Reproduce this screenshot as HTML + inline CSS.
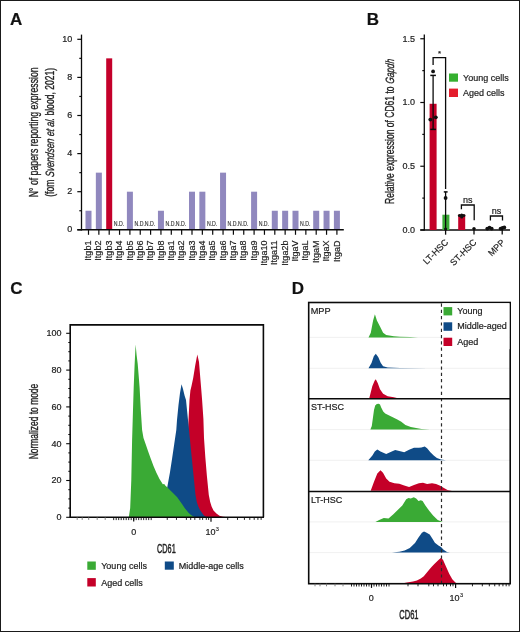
<!DOCTYPE html>
<html><head><meta charset="utf-8"><style>
html,body{margin:0;padding:0;background:#fff;}
svg{display:block;font-family:"Liberation Sans", sans-serif;will-change:transform;}
text{stroke:#222;stroke-width:0.2px;}
</style></head><body>
<svg width="520" height="632" viewBox="0 0 520 632">
<rect width="520" height="632" fill="#fff"/>
<rect x="0.5" y="0.5" width="519" height="631" fill="none" stroke="#1a1a1a" stroke-width="1"/>
<text x="10.00" y="24.80" font-size="17" text-anchor="start" font-weight="bold" fill="#111" >A</text>
<line x1="81.50" y1="34.60" x2="81.50" y2="230.50" stroke="#0a0a0a" stroke-width="1.3" />
<line x1="77.30" y1="229.80" x2="81.50" y2="229.80" stroke="#0a0a0a" stroke-width="1.2" />
<text x="72.30" y="232.30" font-size="9" text-anchor="end" font-weight="normal" fill="#222" >0</text>
<line x1="79.30" y1="210.75" x2="81.50" y2="210.75" stroke="#0a0a0a" stroke-width="1.2" />
<line x1="77.30" y1="191.70" x2="81.50" y2="191.70" stroke="#0a0a0a" stroke-width="1.2" />
<text x="72.30" y="194.20" font-size="9" text-anchor="end" font-weight="normal" fill="#222" >2</text>
<line x1="79.30" y1="172.65" x2="81.50" y2="172.65" stroke="#0a0a0a" stroke-width="1.2" />
<line x1="77.30" y1="153.60" x2="81.50" y2="153.60" stroke="#0a0a0a" stroke-width="1.2" />
<text x="72.30" y="156.10" font-size="9" text-anchor="end" font-weight="normal" fill="#222" >4</text>
<line x1="79.30" y1="134.55" x2="81.50" y2="134.55" stroke="#0a0a0a" stroke-width="1.2" />
<line x1="77.30" y1="115.50" x2="81.50" y2="115.50" stroke="#0a0a0a" stroke-width="1.2" />
<text x="72.30" y="118.00" font-size="9" text-anchor="end" font-weight="normal" fill="#222" >6</text>
<line x1="79.30" y1="96.45" x2="81.50" y2="96.45" stroke="#0a0a0a" stroke-width="1.2" />
<line x1="77.30" y1="77.40" x2="81.50" y2="77.40" stroke="#0a0a0a" stroke-width="1.2" />
<text x="72.30" y="79.90" font-size="9" text-anchor="end" font-weight="normal" fill="#222" >8</text>
<line x1="79.30" y1="58.35" x2="81.50" y2="58.35" stroke="#0a0a0a" stroke-width="1.2" />
<line x1="77.30" y1="39.30" x2="81.50" y2="39.30" stroke="#0a0a0a" stroke-width="1.2" />
<text x="72.30" y="41.80" font-size="9" text-anchor="end" font-weight="normal" fill="#222" >10</text>
<rect x="85.50" y="210.75" width="6.00" height="19.05" fill="#9088be"/>
<line x1="88.50" y1="229.80" x2="88.50" y2="234.80" stroke="#0a0a0a" stroke-width="1.2" />
<text transform="translate(91.10,240.6) rotate(-90)" font-size="9" text-anchor="end" fill="#222">Itgb1</text>
<rect x="95.85" y="172.65" width="6.00" height="57.15" fill="#9088be"/>
<line x1="98.85" y1="229.80" x2="98.85" y2="234.80" stroke="#0a0a0a" stroke-width="1.2" />
<text transform="translate(101.45,240.6) rotate(-90)" font-size="9" text-anchor="end" fill="#222">Itgb2</text>
<rect x="106.20" y="58.35" width="6.00" height="171.45" fill="#c4002a"/>
<line x1="109.20" y1="229.80" x2="109.20" y2="234.80" stroke="#0a0a0a" stroke-width="1.2" />
<text transform="translate(111.80,240.6) rotate(-90)" font-size="9" text-anchor="end" fill="#222">Itgb3</text>
<text x="118.95" y="226.3" font-size="6.6" text-anchor="middle" fill="#333" textLength="10.4" lengthAdjust="spacingAndGlyphs" style="stroke:#333;stroke-width:0.15px">N.D.</text>
<line x1="119.55" y1="229.80" x2="119.55" y2="234.80" stroke="#0a0a0a" stroke-width="1.2" />
<text transform="translate(122.15,240.6) rotate(-90)" font-size="9" text-anchor="end" fill="#222">Itgb4</text>
<rect x="126.90" y="191.70" width="6.00" height="38.10" fill="#9088be"/>
<line x1="129.90" y1="229.80" x2="129.90" y2="234.80" stroke="#0a0a0a" stroke-width="1.2" />
<text transform="translate(132.50,240.6) rotate(-90)" font-size="9" text-anchor="end" fill="#222">Itgb5</text>
<text x="139.65" y="226.3" font-size="6.6" text-anchor="middle" fill="#333" textLength="10.4" lengthAdjust="spacingAndGlyphs" style="stroke:#333;stroke-width:0.15px">N.D.</text>
<line x1="140.25" y1="229.80" x2="140.25" y2="234.80" stroke="#0a0a0a" stroke-width="1.2" />
<text transform="translate(142.85,240.6) rotate(-90)" font-size="9" text-anchor="end" fill="#222">Itgb6</text>
<text x="150.00" y="226.3" font-size="6.6" text-anchor="middle" fill="#333" textLength="10.4" lengthAdjust="spacingAndGlyphs" style="stroke:#333;stroke-width:0.15px">N.D.</text>
<line x1="150.60" y1="229.80" x2="150.60" y2="234.80" stroke="#0a0a0a" stroke-width="1.2" />
<text transform="translate(153.20,240.6) rotate(-90)" font-size="9" text-anchor="end" fill="#222">Itgb7</text>
<rect x="157.95" y="210.75" width="6.00" height="19.05" fill="#9088be"/>
<line x1="160.95" y1="229.80" x2="160.95" y2="234.80" stroke="#0a0a0a" stroke-width="1.2" />
<text transform="translate(163.55,240.6) rotate(-90)" font-size="9" text-anchor="end" fill="#222">Itgb8</text>
<text x="170.70" y="226.3" font-size="6.6" text-anchor="middle" fill="#333" textLength="10.4" lengthAdjust="spacingAndGlyphs" style="stroke:#333;stroke-width:0.15px">N.D.</text>
<line x1="171.30" y1="229.80" x2="171.30" y2="234.80" stroke="#0a0a0a" stroke-width="1.2" />
<text transform="translate(173.90,240.6) rotate(-90)" font-size="9" text-anchor="end" fill="#222">Itga1</text>
<text x="181.05" y="226.3" font-size="6.6" text-anchor="middle" fill="#333" textLength="10.4" lengthAdjust="spacingAndGlyphs" style="stroke:#333;stroke-width:0.15px">N.D.</text>
<line x1="181.65" y1="229.80" x2="181.65" y2="234.80" stroke="#0a0a0a" stroke-width="1.2" />
<text transform="translate(184.25,240.6) rotate(-90)" font-size="9" text-anchor="end" fill="#222">Itga2</text>
<rect x="189.00" y="191.70" width="6.00" height="38.10" fill="#9088be"/>
<line x1="192.00" y1="229.80" x2="192.00" y2="234.80" stroke="#0a0a0a" stroke-width="1.2" />
<text transform="translate(194.60,240.6) rotate(-90)" font-size="9" text-anchor="end" fill="#222">Itga3</text>
<rect x="199.35" y="191.70" width="6.00" height="38.10" fill="#9088be"/>
<line x1="202.35" y1="229.80" x2="202.35" y2="234.80" stroke="#0a0a0a" stroke-width="1.2" />
<text transform="translate(204.95,240.6) rotate(-90)" font-size="9" text-anchor="end" fill="#222">Itga4</text>
<text x="212.10" y="226.3" font-size="6.6" text-anchor="middle" fill="#333" textLength="10.4" lengthAdjust="spacingAndGlyphs" style="stroke:#333;stroke-width:0.15px">N.D.</text>
<line x1="212.70" y1="229.80" x2="212.70" y2="234.80" stroke="#0a0a0a" stroke-width="1.2" />
<text transform="translate(215.30,240.6) rotate(-90)" font-size="9" text-anchor="end" fill="#222">Itga5</text>
<rect x="220.05" y="172.65" width="6.00" height="57.15" fill="#9088be"/>
<line x1="223.05" y1="229.80" x2="223.05" y2="234.80" stroke="#0a0a0a" stroke-width="1.2" />
<text transform="translate(225.65,240.6) rotate(-90)" font-size="9" text-anchor="end" fill="#222">Itga6</text>
<text x="232.80" y="226.3" font-size="6.6" text-anchor="middle" fill="#333" textLength="10.4" lengthAdjust="spacingAndGlyphs" style="stroke:#333;stroke-width:0.15px">N.D.</text>
<line x1="233.40" y1="229.80" x2="233.40" y2="234.80" stroke="#0a0a0a" stroke-width="1.2" />
<text transform="translate(236.00,240.6) rotate(-90)" font-size="9" text-anchor="end" fill="#222">Itga7</text>
<text x="243.15" y="226.3" font-size="6.6" text-anchor="middle" fill="#333" textLength="10.4" lengthAdjust="spacingAndGlyphs" style="stroke:#333;stroke-width:0.15px">N.D.</text>
<line x1="243.75" y1="229.80" x2="243.75" y2="234.80" stroke="#0a0a0a" stroke-width="1.2" />
<text transform="translate(246.35,240.6) rotate(-90)" font-size="9" text-anchor="end" fill="#222">Itga8</text>
<rect x="251.10" y="191.70" width="6.00" height="38.10" fill="#9088be"/>
<line x1="254.10" y1="229.80" x2="254.10" y2="234.80" stroke="#0a0a0a" stroke-width="1.2" />
<text transform="translate(256.70,240.6) rotate(-90)" font-size="9" text-anchor="end" fill="#222">Itga9</text>
<text x="263.85" y="226.3" font-size="6.6" text-anchor="middle" fill="#333" textLength="10.4" lengthAdjust="spacingAndGlyphs" style="stroke:#333;stroke-width:0.15px">N.D.</text>
<line x1="264.45" y1="229.80" x2="264.45" y2="234.80" stroke="#0a0a0a" stroke-width="1.2" />
<text transform="translate(267.05,240.6) rotate(-90)" font-size="9" text-anchor="end" fill="#222">Itga10</text>
<rect x="271.80" y="210.75" width="6.00" height="19.05" fill="#9088be"/>
<line x1="274.80" y1="229.80" x2="274.80" y2="234.80" stroke="#0a0a0a" stroke-width="1.2" />
<text transform="translate(277.40,240.6) rotate(-90)" font-size="9" text-anchor="end" fill="#222">Itga11</text>
<rect x="282.15" y="210.75" width="6.00" height="19.05" fill="#9088be"/>
<line x1="285.15" y1="229.80" x2="285.15" y2="234.80" stroke="#0a0a0a" stroke-width="1.2" />
<text transform="translate(287.75,240.6) rotate(-90)" font-size="9" text-anchor="end" fill="#222">Itga2b</text>
<rect x="292.50" y="210.75" width="6.00" height="19.05" fill="#9088be"/>
<line x1="295.50" y1="229.80" x2="295.50" y2="234.80" stroke="#0a0a0a" stroke-width="1.2" />
<text transform="translate(298.10,240.6) rotate(-90)" font-size="9" text-anchor="end" fill="#222">ItgaV</text>
<text x="305.25" y="226.3" font-size="6.6" text-anchor="middle" fill="#333" textLength="10.4" lengthAdjust="spacingAndGlyphs" style="stroke:#333;stroke-width:0.15px">N.D.</text>
<line x1="305.85" y1="229.80" x2="305.85" y2="234.80" stroke="#0a0a0a" stroke-width="1.2" />
<text transform="translate(308.45,240.6) rotate(-90)" font-size="9" text-anchor="end" fill="#222">ItgaL</text>
<rect x="313.20" y="210.75" width="6.00" height="19.05" fill="#9088be"/>
<line x1="316.20" y1="229.80" x2="316.20" y2="234.80" stroke="#0a0a0a" stroke-width="1.2" />
<text transform="translate(318.80,240.6) rotate(-90)" font-size="9" text-anchor="end" fill="#222">ItgaM</text>
<rect x="323.55" y="210.75" width="6.00" height="19.05" fill="#9088be"/>
<line x1="326.55" y1="229.80" x2="326.55" y2="234.80" stroke="#0a0a0a" stroke-width="1.2" />
<text transform="translate(329.15,240.6) rotate(-90)" font-size="9" text-anchor="end" fill="#222">ItgaX</text>
<rect x="333.90" y="210.75" width="6.00" height="19.05" fill="#9088be"/>
<line x1="336.90" y1="229.80" x2="336.90" y2="234.80" stroke="#0a0a0a" stroke-width="1.2" />
<text transform="translate(339.50,240.6) rotate(-90)" font-size="9" text-anchor="end" fill="#222">ItgaD</text>
<line x1="77.30" y1="229.80" x2="343.80" y2="229.80" stroke="#0a0a0a" stroke-width="1.4" />
<text transform="translate(37.7,132.3) rotate(-90)" font-size="12" text-anchor="middle" fill="#222" textLength="130" lengthAdjust="spacingAndGlyphs" style="stroke-width:0.32px">N° of papers reporting expression</text>
<text transform="translate(54,196.8) rotate(-90)" font-size="12" fill="#222" textLength="17.2" lengthAdjust="spacingAndGlyphs" style="stroke-width:0.32px">(fom</text>
<text transform="translate(54,177.2) rotate(-90) skewX(-6)" font-size="12" font-style="italic" fill="#222" textLength="59.2" lengthAdjust="spacingAndGlyphs" style="stroke-width:0.32px">Svendsen et al.</text>
<text transform="translate(54,117.95) rotate(-90)" font-size="12" fill="#222" textLength="50.1" lengthAdjust="spacingAndGlyphs" style="stroke-width:0.32px" xml:space="preserve"> blood, 2021)</text>
<text x="366.80" y="24.60" font-size="17" text-anchor="start" font-weight="bold" fill="#111" >B</text>
<line x1="424.30" y1="34.60" x2="424.30" y2="230.50" stroke="#0a0a0a" stroke-width="1.3" />
<line x1="420.30" y1="230.00" x2="424.30" y2="230.00" stroke="#0a0a0a" stroke-width="1.2" />
<text x="414.90" y="232.90" font-size="9" text-anchor="end" font-weight="normal" fill="#222" >0.0</text>
<line x1="422.30" y1="198.12" x2="424.30" y2="198.12" stroke="#0a0a0a" stroke-width="1.2" />
<line x1="420.30" y1="166.25" x2="424.30" y2="166.25" stroke="#0a0a0a" stroke-width="1.2" />
<text x="414.90" y="169.15" font-size="9" text-anchor="end" font-weight="normal" fill="#222" >0.5</text>
<line x1="422.30" y1="134.38" x2="424.30" y2="134.38" stroke="#0a0a0a" stroke-width="1.2" />
<line x1="420.30" y1="102.50" x2="424.30" y2="102.50" stroke="#0a0a0a" stroke-width="1.2" />
<text x="414.90" y="105.40" font-size="9" text-anchor="end" font-weight="normal" fill="#222" >1.0</text>
<line x1="422.30" y1="70.62" x2="424.30" y2="70.62" stroke="#0a0a0a" stroke-width="1.2" />
<line x1="420.30" y1="38.75" x2="424.30" y2="38.75" stroke="#0a0a0a" stroke-width="1.2" />
<text x="414.90" y="41.65" font-size="9" text-anchor="end" font-weight="normal" fill="#222" >1.5</text>
<line x1="420.30" y1="230.00" x2="510.00" y2="230.00" stroke="#0a0a0a" stroke-width="1.4" />
<rect x="429.60" y="103.78" width="7.00" height="126.22" fill="#c40028"/>
<rect x="442.40" y="214.70" width="7.00" height="15.30" fill="#3aaa35"/>
<rect x="458.20" y="214.70" width="7.00" height="15.30" fill="#c40028"/>
<line x1="433.10" y1="75.40" x2="433.10" y2="129.40" stroke="#0a0a0a" stroke-width="1.3" />
<line x1="430.30" y1="75.40" x2="435.90" y2="75.40" stroke="#0a0a0a" stroke-width="1.5" />
<line x1="430.30" y1="129.40" x2="435.90" y2="129.40" stroke="#0a0a0a" stroke-width="1.5" />
<circle cx="433.1" cy="71.4" r="1.9" fill="#111"/>
<circle cx="430.3" cy="119.6" r="1.9" fill="#111"/>
<circle cx="435.8" cy="117.3" r="1.9" fill="#111"/>
<line x1="445.60" y1="191.90" x2="445.60" y2="234.70" stroke="#0a0a0a" stroke-width="1.3" />
<line x1="443.80" y1="191.90" x2="447.60" y2="191.90" stroke="#0a0a0a" stroke-width="1.5" />
<circle cx="445.6" cy="198" r="1.9" fill="#111"/>
<circle cx="445.6" cy="229" r="1.6" fill="#111"/>
<polyline points="433.1,65 433.1,57.7 445.6,57.7 445.6,189" fill="none" stroke="#0a0a0a" stroke-width="1.3"/>
<text x="439.60" y="56.00" font-size="8" text-anchor="middle" font-weight="normal" fill="#222" >*</text>
<circle cx="459.5" cy="215.5" r="1.6" fill="#111"/>
<circle cx="461.7" cy="215" r="1.6" fill="#111"/>
<circle cx="463.8" cy="215.5" r="1.6" fill="#111"/>
<circle cx="461.7" cy="217" r="1.6" fill="#111"/>
<circle cx="474" cy="228.6" r="1.7" fill="#111"/>
<line x1="474.00" y1="228.00" x2="474.00" y2="234.50" stroke="#0a0a0a" stroke-width="1.3" />
<polyline points="461.4,209.3 461.4,205 474.2,205 474.2,220.2" fill="none" stroke="#0a0a0a" stroke-width="1.3"/>
<text x="467.80" y="203.00" font-size="9" text-anchor="middle" font-weight="normal" fill="#222" >ns</text>
<circle cx="487.3" cy="228.6" r="1.9" fill="#111"/>
<circle cx="489.5" cy="227.6" r="1.9" fill="#111"/>
<circle cx="491.7" cy="228.6" r="1.9" fill="#111"/>
<circle cx="500.6" cy="228.6" r="1.9" fill="#111"/>
<circle cx="502.5" cy="227.8" r="1.9" fill="#111"/>
<circle cx="504.3" cy="227.4" r="1.9" fill="#111"/>
<line x1="502.20" y1="228.00" x2="502.20" y2="234.50" stroke="#0a0a0a" stroke-width="1.3" />
<polyline points="490.4,220.4 490.4,216 502.5,216 502.5,220.4" fill="none" stroke="#0a0a0a" stroke-width="1.3"/>
<text x="496.40" y="213.80" font-size="9" text-anchor="middle" font-weight="normal" fill="#222" >ns</text>
<text transform="translate(448.90,242.9) rotate(-45)" font-size="9" text-anchor="end" fill="#222">LT-HSC</text>
<text transform="translate(477.20,242.9) rotate(-45)" font-size="9" text-anchor="end" fill="#222">ST-HSC</text>
<text transform="translate(505.60,242.9) rotate(-45)" font-size="9" text-anchor="end" fill="#222">MPP</text>
<rect x="449.00" y="73.50" width="9.00" height="8.20" fill="#35b030"/>
<rect x="449.00" y="88.60" width="9.00" height="8.40" fill="#e41d2c"/>
<text x="463.00" y="80.50" font-size="9" text-anchor="start" font-weight="normal" fill="#222" >Young cells</text>
<text x="463.00" y="95.80" font-size="9" text-anchor="start" font-weight="normal" fill="#222" >Aged cells</text>
<text transform="translate(394.3,204) rotate(-90)" font-size="12" fill="#222" textLength="117.5" lengthAdjust="spacingAndGlyphs" style="stroke-width:0.32px">Relative expression of CD61 to</text>
<text transform="translate(394.3,83.9) rotate(-90) skewX(-6)" font-size="12" font-style="italic" fill="#222" textLength="24.6" lengthAdjust="spacingAndGlyphs" style="stroke-width:0.32px">Gapdh</text>
<text x="10.30" y="294.00" font-size="17" text-anchor="start" font-weight="bold" fill="#111" >C</text>
<path d="M183.0,517.3 L186.0,470.0 L188.5,420.0 L189.5,400.0 L190.4,390.6 L191.5,386.0 L193.2,378.0 L195.3,365.0 L197.3,354.6 L199.0,362.0 L200.3,378.0 L201.3,390.0 L202.1,400.0 L203.4,419.0 L204.0,438.0 L205.3,457.0 L206.9,476.0 L208.8,495.0 L210.2,502.0 L211.6,506.5 L213.5,510.5 L216.4,513.5 L219.5,515.8 L223.0,516.8 L228.0,517.3 Z" fill="#c40028"/>
<path d="M158.0,517.3 L165.0,500.0 L167.8,484.2 L169.9,472.8 L172.1,458.5 L174.2,444.3 L176.3,430.0 L177.0,420.0 L178.5,405.0 L180.0,393.0 L181.5,384.3 L183.0,389.0 L184.7,396.0 L186.0,400.0 L187.9,419.0 L189.8,438.0 L191.7,457.0 L193.6,476.0 L195.5,495.0 L196.8,502.0 L198.3,506.5 L200.0,510.0 L202.1,513.0 L204.0,515.5 L206.0,516.8 L209.0,517.3 Z" fill="#0f4b87"/>
<path d="M128.8,517.3 L130.2,508.0 L131.3,480.0 L132.1,440.0 L133.0,410.0 L133.7,387.5 L134.6,365.0 L135.6,344.6 L136.6,355.0 L137.7,363.7 L138.7,376.0 L139.6,387.5 L140.8,410.0 L142.1,430.0 L143.5,438.0 L145.7,444.3 L148.0,451.0 L150.7,458.5 L153.5,466.0 L156.4,472.8 L159.5,479.0 L162.8,484.2 L164.2,484.0 L165.5,485.8 L167.0,487.0 L169.9,489.9 L173.5,493.5 L177.0,497.0 L182.0,504.1 L185.0,508.5 L188.5,512.7 L191.0,515.0 L194.0,516.8 L196.0,517.3 Z" fill="#3aaa35"/>
<polyline points="70.2,517.3 70.2,324.9 263.4,324.9 263.4,517.3" fill="none" stroke="#0a0a0a" stroke-width="1.6"/>
<line x1="69.60" y1="517.30" x2="264.00" y2="517.30" stroke="#0a0a0a" stroke-width="1.4" />
<line x1="66.20" y1="517.30" x2="70.20" y2="517.30" stroke="#0a0a0a" stroke-width="1.1" />
<text x="61.60" y="520.10" font-size="9" text-anchor="end" font-weight="normal" fill="#222" >0</text>
<line x1="68.30" y1="508.10" x2="70.20" y2="508.10" stroke="#0a0a0a" stroke-width="1.0" />
<line x1="68.30" y1="498.90" x2="70.20" y2="498.90" stroke="#0a0a0a" stroke-width="1.0" />
<line x1="68.30" y1="489.70" x2="70.20" y2="489.70" stroke="#0a0a0a" stroke-width="1.0" />
<line x1="66.20" y1="480.50" x2="70.20" y2="480.50" stroke="#0a0a0a" stroke-width="1.1" />
<text x="61.60" y="483.30" font-size="9" text-anchor="end" font-weight="normal" fill="#222" >20</text>
<line x1="68.30" y1="471.30" x2="70.20" y2="471.30" stroke="#0a0a0a" stroke-width="1.0" />
<line x1="68.30" y1="462.10" x2="70.20" y2="462.10" stroke="#0a0a0a" stroke-width="1.0" />
<line x1="68.30" y1="452.90" x2="70.20" y2="452.90" stroke="#0a0a0a" stroke-width="1.0" />
<line x1="66.20" y1="443.70" x2="70.20" y2="443.70" stroke="#0a0a0a" stroke-width="1.1" />
<text x="61.60" y="446.50" font-size="9" text-anchor="end" font-weight="normal" fill="#222" >40</text>
<line x1="68.30" y1="434.50" x2="70.20" y2="434.50" stroke="#0a0a0a" stroke-width="1.0" />
<line x1="68.30" y1="425.30" x2="70.20" y2="425.30" stroke="#0a0a0a" stroke-width="1.0" />
<line x1="68.30" y1="416.10" x2="70.20" y2="416.10" stroke="#0a0a0a" stroke-width="1.0" />
<line x1="66.20" y1="406.90" x2="70.20" y2="406.90" stroke="#0a0a0a" stroke-width="1.1" />
<text x="61.60" y="409.70" font-size="9" text-anchor="end" font-weight="normal" fill="#222" >60</text>
<line x1="68.30" y1="397.70" x2="70.20" y2="397.70" stroke="#0a0a0a" stroke-width="1.0" />
<line x1="68.30" y1="388.50" x2="70.20" y2="388.50" stroke="#0a0a0a" stroke-width="1.0" />
<line x1="68.30" y1="379.30" x2="70.20" y2="379.30" stroke="#0a0a0a" stroke-width="1.0" />
<line x1="66.20" y1="370.10" x2="70.20" y2="370.10" stroke="#0a0a0a" stroke-width="1.1" />
<text x="61.60" y="372.90" font-size="9" text-anchor="end" font-weight="normal" fill="#222" >80</text>
<line x1="68.30" y1="360.90" x2="70.20" y2="360.90" stroke="#0a0a0a" stroke-width="1.0" />
<line x1="68.30" y1="351.70" x2="70.20" y2="351.70" stroke="#0a0a0a" stroke-width="1.0" />
<line x1="68.30" y1="342.50" x2="70.20" y2="342.50" stroke="#0a0a0a" stroke-width="1.0" />
<line x1="66.20" y1="333.30" x2="70.20" y2="333.30" stroke="#0a0a0a" stroke-width="1.1" />
<text x="61.60" y="336.10" font-size="9" text-anchor="end" font-weight="normal" fill="#222" >100</text>
<text transform="translate(38.2,421.5) rotate(-90)" font-size="12" text-anchor="middle" fill="#222" textLength="75.5" lengthAdjust="spacingAndGlyphs" style="stroke-width:0.32px">Normalized to mode</text>
<line x1="77.20" y1="517.30" x2="77.20" y2="519.90" stroke="#777" stroke-width="0.9" />
<line x1="82.20" y1="517.30" x2="82.20" y2="519.90" stroke="#777" stroke-width="0.9" />
<line x1="88.70" y1="517.30" x2="88.70" y2="519.90" stroke="#777" stroke-width="0.9" />
<line x1="97.20" y1="517.30" x2="97.20" y2="519.90" stroke="#777" stroke-width="0.9" />
<line x1="105.20" y1="517.30" x2="105.20" y2="519.90" stroke="#777" stroke-width="0.9" />
<line x1="113.70" y1="517.30" x2="113.70" y2="520.10" stroke="#0a0a0a" stroke-width="0.9" />
<line x1="116.20" y1="517.30" x2="116.20" y2="520.10" stroke="#0a0a0a" stroke-width="0.9" />
<line x1="118.70" y1="517.30" x2="118.70" y2="520.10" stroke="#0a0a0a" stroke-width="0.9" />
<line x1="121.20" y1="517.30" x2="121.20" y2="520.10" stroke="#0a0a0a" stroke-width="0.9" />
<line x1="123.70" y1="517.30" x2="123.70" y2="520.10" stroke="#0a0a0a" stroke-width="0.9" />
<line x1="126.20" y1="517.30" x2="126.20" y2="520.10" stroke="#0a0a0a" stroke-width="0.9" />
<line x1="128.70" y1="517.30" x2="128.70" y2="520.10" stroke="#0a0a0a" stroke-width="0.9" />
<line x1="131.20" y1="517.30" x2="131.20" y2="520.10" stroke="#0a0a0a" stroke-width="0.9" />
<line x1="133.70" y1="517.30" x2="133.70" y2="520.10" stroke="#0a0a0a" stroke-width="0.9" />
<line x1="136.20" y1="517.30" x2="136.20" y2="520.10" stroke="#0a0a0a" stroke-width="0.9" />
<line x1="138.70" y1="517.30" x2="138.70" y2="520.10" stroke="#0a0a0a" stroke-width="0.9" />
<line x1="141.20" y1="517.30" x2="141.20" y2="520.10" stroke="#0a0a0a" stroke-width="0.9" />
<line x1="143.70" y1="517.30" x2="143.70" y2="520.10" stroke="#0a0a0a" stroke-width="0.9" />
<line x1="146.20" y1="517.30" x2="146.20" y2="520.10" stroke="#0a0a0a" stroke-width="0.9" />
<line x1="148.70" y1="517.30" x2="148.70" y2="520.10" stroke="#0a0a0a" stroke-width="0.9" />
<line x1="151.20" y1="517.30" x2="151.20" y2="520.10" stroke="#0a0a0a" stroke-width="0.9" />
<line x1="167.25" y1="517.30" x2="167.25" y2="519.90" stroke="#0a0a0a" stroke-width="0.9" />
<line x1="176.44" y1="517.30" x2="176.44" y2="519.90" stroke="#0a0a0a" stroke-width="0.9" />
<line x1="186.37" y1="517.30" x2="186.37" y2="519.90" stroke="#0a0a0a" stroke-width="0.9" />
<line x1="190.69" y1="517.30" x2="190.69" y2="519.90" stroke="#0a0a0a" stroke-width="0.9" />
<line x1="194.82" y1="517.30" x2="194.82" y2="519.90" stroke="#0a0a0a" stroke-width="0.9" />
<line x1="199.88" y1="517.30" x2="199.88" y2="519.90" stroke="#0a0a0a" stroke-width="0.9" />
<line x1="202.64" y1="517.30" x2="202.64" y2="519.90" stroke="#0a0a0a" stroke-width="0.9" />
<line x1="206.31" y1="517.30" x2="206.31" y2="519.90" stroke="#0a0a0a" stroke-width="0.9" />
<line x1="208.61" y1="517.30" x2="208.61" y2="519.90" stroke="#0a0a0a" stroke-width="0.9" />
<line x1="227.71" y1="517.30" x2="227.71" y2="519.90" stroke="#0a0a0a" stroke-width="0.9" />
<line x1="237.48" y1="517.30" x2="237.48" y2="519.90" stroke="#0a0a0a" stroke-width="0.9" />
<line x1="244.41" y1="517.30" x2="244.41" y2="519.90" stroke="#0a0a0a" stroke-width="0.9" />
<line x1="249.79" y1="517.30" x2="249.79" y2="519.90" stroke="#0a0a0a" stroke-width="0.9" />
<line x1="254.19" y1="517.30" x2="254.19" y2="519.90" stroke="#0a0a0a" stroke-width="0.9" />
<line x1="257.90" y1="517.30" x2="257.90" y2="519.90" stroke="#0a0a0a" stroke-width="0.9" />
<line x1="261.12" y1="517.30" x2="261.12" y2="519.90" stroke="#0a0a0a" stroke-width="0.9" />
<line x1="133.70" y1="517.30" x2="133.70" y2="521.50" stroke="#0a0a0a" stroke-width="1.2" />
<line x1="211.00" y1="517.30" x2="211.00" y2="521.70" stroke="#0a0a0a" stroke-width="1.2" />
<text x="133.70" y="535.00" font-size="9" text-anchor="middle" font-weight="normal" fill="#222" >0</text>
<text x="205.40" y="534.80" font-size="9" text-anchor="start" font-weight="normal" fill="#222" >10</text>
<text transform="translate(215.6,531) scale(0.5)" font-size="12.5" fill="#222">3</text>
<text x="166.4" y="552.7" font-size="12.2" text-anchor="middle" fill="#222" textLength="18.6" lengthAdjust="spacingAndGlyphs" style="stroke-width:0.45px">CD61</text>
<rect x="87.30" y="561.50" width="8.50" height="8.30" fill="#3aaa35"/>
<rect x="164.80" y="561.50" width="9.00" height="8.20" fill="#0f4b87"/>
<rect x="87.30" y="578.10" width="8.50" height="8.40" fill="#c40028"/>
<text x="101.20" y="568.90" font-size="9" text-anchor="start" font-weight="normal" fill="#222" >Young cells</text>
<text x="178.70" y="568.90" font-size="9" text-anchor="start" font-weight="normal" fill="#222" >Middle-age cells</text>
<text x="101.20" y="585.60" font-size="9" text-anchor="start" font-weight="normal" fill="#222" >Aged cells</text>
<text x="291.80" y="293.50" font-size="17" text-anchor="start" font-weight="bold" fill="#111" >D</text>
<line x1="308.70" y1="337.40" x2="510.20" y2="337.40" stroke="#ececec" stroke-width="0.8" />
<line x1="308.70" y1="368.30" x2="510.20" y2="368.30" stroke="#ececec" stroke-width="0.8" />
<line x1="308.70" y1="429.60" x2="510.20" y2="429.60" stroke="#ececec" stroke-width="0.8" />
<line x1="308.70" y1="460.30" x2="510.20" y2="460.30" stroke="#ececec" stroke-width="0.8" />
<line x1="308.70" y1="521.90" x2="510.20" y2="521.90" stroke="#ececec" stroke-width="0.8" />
<line x1="308.70" y1="552.60" x2="510.20" y2="552.60" stroke="#ececec" stroke-width="0.8" />
<path d="M368.5,337.4 L370.8,332.7 L373.1,320.4 L374.9,314.2 L376.9,320.4 L380.0,326.5 L383.1,332.7 L386.2,335.0 L393.8,336.2 L400.0,336.8 L410.0,337.1 L418.0,337.4 Z" fill="#3aaa35"/>
<path d="M368.5,368.3 L371.5,363.1 L373.8,356.2 L375.8,353.8 L378.2,356.9 L380.8,363.1 L383.1,366.2 L387.7,367.4 L400.0,367.9 L428.0,368.3 Z" fill="#0f4b87"/>
<path d="M369.2,398.5 L372.3,386.2 L374.6,380.8 L375.8,379.2 L377.7,383.1 L380.0,389.2 L383.1,393.8 L387.7,396.2 L393.8,397.2 L399.0,398.5 Z" fill="#c40028"/>
<path d="M370.4,429.6 L371.8,426.0 L372.9,418.0 L374.0,410.0 L375.2,405.6 L376.8,403.9 L378.8,403.7 L380.0,404.6 L381.2,407.4 L383.2,411.4 L385.2,413.5 L389.2,415.5 L393.3,417.5 L397.3,419.5 L401.3,421.8 L405.4,424.9 L410.8,426.9 L416.1,428.0 L421.5,428.9 L430.0,429.6 Z" fill="#3aaa35"/>
<path d="M368.3,460.3 L372.4,455.5 L374.8,451.4 L377.3,449.5 L380.5,451.4 L386.2,453.9 L391.2,451.8 L395.2,450.1 L399.3,451.1 L404.2,452.3 L409.1,449.8 L414.0,447.8 L418.9,447.7 L421.4,447.4 L424.7,446.5 L427.1,448.2 L430.4,452.3 L433.7,455.5 L436.9,458.0 L441.0,459.6 L446.0,460.3 Z" fill="#0f4b87"/>
<path d="M370.7,490.8 L374.0,481.7 L377.3,473.5 L380.5,470.2 L383.0,472.7 L386.2,478.4 L389.5,481.7 L394.4,483.3 L399.3,483.8 L404.2,485.4 L409.1,487.1 L414.0,485.0 L418.9,483.3 L423.0,482.8 L427.1,484.1 L432.0,483.3 L436.1,484.1 L440.2,485.8 L443.5,487.7 L447.5,489.9 L452.0,490.8 Z" fill="#c40028"/>
<path d="M375.4,521.9 L379.2,520.0 L383.8,518.0 L388.5,518.5 L393.1,514.6 L397.7,510.0 L402.3,505.4 L406.2,499.2 L408.5,498.0 L410.8,498.5 L413.8,497.2 L416.2,498.5 L418.5,501.1 L420.8,500.3 L422.6,501.1 L425.4,505.4 L429.2,510.8 L433.1,515.4 L437.7,520.0 L441.5,521.6 L443.0,521.9 Z" fill="#3aaa35"/>
<path d="M386.0,552.6 L392.0,552.4 L399.4,551.8 L404.6,550.6 L409.8,548.0 L415.0,543.1 L418.5,537.6 L421.9,532.7 L424.0,531.5 L426.2,532.4 L429.7,534.5 L432.3,538.4 L434.9,542.8 L438.4,545.4 L441.0,547.1 L443.6,549.7 L447.0,552.1 L450.0,552.6 Z" fill="#0f4b87"/>
<path d="M399.0,583.7 L403.0,583.2 L406.9,582.4 L410.0,582.0 L413.0,581.5 L416.9,580.6 L420.8,578.5 L423.8,576.2 L427.7,571.5 L431.5,566.9 L434.6,563.8 L438.5,560.0 L441.1,557.7 L443.1,560.0 L446.2,566.9 L449.2,573.8 L452.3,579.2 L455.4,582.6 L457.5,583.7 Z" fill="#c40028"/>
<line x1="441.50" y1="303.50" x2="441.50" y2="583.70" stroke="#2a2a2a" stroke-width="1.2" stroke-dasharray="3.2 3.1"/>
<rect x="308.7" y="302.5" width="201.50" height="281.20" fill="none" stroke="#0a0a0a" stroke-width="1.6"/>
<line x1="308.70" y1="398.80" x2="510.20" y2="398.80" stroke="#0a0a0a" stroke-width="1.5" />
<line x1="308.70" y1="491.60" x2="510.20" y2="491.60" stroke="#0a0a0a" stroke-width="1.5" />
<text x="310.70" y="313.90" font-size="9.2" text-anchor="start" font-weight="normal" fill="#222" >MPP</text>
<text x="311.00" y="410.40" font-size="9" text-anchor="start" font-weight="normal" fill="#222" >ST-HSC</text>
<text x="311.00" y="502.90" font-size="9" text-anchor="start" font-weight="normal" fill="#222" >LT-HSC</text>
<rect x="442.30" y="303.20" width="67.20" height="46.00" fill="#fff"/>
<rect x="443.50" y="307.10" width="8.70" height="8.30" fill="#3aaa35"/>
<rect x="443.50" y="322.30" width="8.70" height="8.50" fill="#0f4b87"/>
<rect x="443.50" y="337.70" width="8.70" height="8.30" fill="#c40028"/>
<text x="457.30" y="313.60" font-size="9" text-anchor="start" font-weight="normal" fill="#222" >Young</text>
<text x="457.30" y="329.30" font-size="9" text-anchor="start" font-weight="normal" fill="#222" >Middle-aged</text>
<text x="457.30" y="344.80" font-size="9" text-anchor="start" font-weight="normal" fill="#222" >Aged</text>
<line x1="315.00" y1="583.70" x2="315.00" y2="586.30" stroke="#777" stroke-width="0.9" />
<line x1="320.00" y1="583.70" x2="320.00" y2="586.30" stroke="#777" stroke-width="0.9" />
<line x1="326.50" y1="583.70" x2="326.50" y2="586.30" stroke="#777" stroke-width="0.9" />
<line x1="335.00" y1="583.70" x2="335.00" y2="586.30" stroke="#777" stroke-width="0.9" />
<line x1="343.00" y1="583.70" x2="343.00" y2="586.30" stroke="#777" stroke-width="0.9" />
<line x1="351.50" y1="583.70" x2="351.50" y2="586.50" stroke="#0a0a0a" stroke-width="0.9" />
<line x1="354.00" y1="583.70" x2="354.00" y2="586.50" stroke="#0a0a0a" stroke-width="0.9" />
<line x1="356.50" y1="583.70" x2="356.50" y2="586.50" stroke="#0a0a0a" stroke-width="0.9" />
<line x1="359.00" y1="583.70" x2="359.00" y2="586.50" stroke="#0a0a0a" stroke-width="0.9" />
<line x1="361.50" y1="583.70" x2="361.50" y2="586.50" stroke="#0a0a0a" stroke-width="0.9" />
<line x1="364.00" y1="583.70" x2="364.00" y2="586.50" stroke="#0a0a0a" stroke-width="0.9" />
<line x1="366.50" y1="583.70" x2="366.50" y2="586.50" stroke="#0a0a0a" stroke-width="0.9" />
<line x1="369.00" y1="583.70" x2="369.00" y2="586.50" stroke="#0a0a0a" stroke-width="0.9" />
<line x1="371.50" y1="583.70" x2="371.50" y2="586.50" stroke="#0a0a0a" stroke-width="0.9" />
<line x1="374.00" y1="583.70" x2="374.00" y2="586.50" stroke="#0a0a0a" stroke-width="0.9" />
<line x1="376.50" y1="583.70" x2="376.50" y2="586.50" stroke="#0a0a0a" stroke-width="0.9" />
<line x1="379.00" y1="583.70" x2="379.00" y2="586.50" stroke="#0a0a0a" stroke-width="0.9" />
<line x1="381.50" y1="583.70" x2="381.50" y2="586.50" stroke="#0a0a0a" stroke-width="0.9" />
<line x1="384.00" y1="583.70" x2="384.00" y2="586.50" stroke="#0a0a0a" stroke-width="0.9" />
<line x1="386.50" y1="583.70" x2="386.50" y2="586.50" stroke="#0a0a0a" stroke-width="0.9" />
<line x1="389.00" y1="583.70" x2="389.00" y2="586.50" stroke="#0a0a0a" stroke-width="0.9" />
<line x1="408.00" y1="583.70" x2="408.00" y2="586.30" stroke="#0a0a0a" stroke-width="0.9" />
<line x1="418.00" y1="583.70" x2="418.00" y2="586.30" stroke="#0a0a0a" stroke-width="0.9" />
<line x1="428.80" y1="583.70" x2="428.80" y2="586.30" stroke="#0a0a0a" stroke-width="0.9" />
<line x1="433.50" y1="583.70" x2="433.50" y2="586.30" stroke="#0a0a0a" stroke-width="0.9" />
<line x1="438.00" y1="583.70" x2="438.00" y2="586.30" stroke="#0a0a0a" stroke-width="0.9" />
<line x1="443.50" y1="583.70" x2="443.50" y2="586.30" stroke="#0a0a0a" stroke-width="0.9" />
<line x1="446.50" y1="583.70" x2="446.50" y2="586.30" stroke="#0a0a0a" stroke-width="0.9" />
<line x1="450.50" y1="583.70" x2="450.50" y2="586.30" stroke="#0a0a0a" stroke-width="0.9" />
<line x1="453.00" y1="583.70" x2="453.00" y2="586.30" stroke="#0a0a0a" stroke-width="0.9" />
<line x1="472.46" y1="583.70" x2="472.46" y2="586.30" stroke="#0a0a0a" stroke-width="0.9" />
<line x1="482.32" y1="583.70" x2="482.32" y2="586.30" stroke="#0a0a0a" stroke-width="0.9" />
<line x1="489.32" y1="583.70" x2="489.32" y2="586.30" stroke="#0a0a0a" stroke-width="0.9" />
<line x1="494.74" y1="583.70" x2="494.74" y2="586.30" stroke="#0a0a0a" stroke-width="0.9" />
<line x1="499.18" y1="583.70" x2="499.18" y2="586.30" stroke="#0a0a0a" stroke-width="0.9" />
<line x1="502.93" y1="583.70" x2="502.93" y2="586.30" stroke="#0a0a0a" stroke-width="0.9" />
<line x1="506.17" y1="583.70" x2="506.17" y2="586.30" stroke="#0a0a0a" stroke-width="0.9" />
<line x1="509.04" y1="583.70" x2="509.04" y2="586.30" stroke="#0a0a0a" stroke-width="0.9" />
<line x1="371.50" y1="583.70" x2="371.50" y2="587.90" stroke="#0a0a0a" stroke-width="1.2" />
<line x1="455.60" y1="583.70" x2="455.60" y2="588.10" stroke="#0a0a0a" stroke-width="1.2" />
<text x="371.20" y="600.90" font-size="9" text-anchor="middle" font-weight="normal" fill="#222" >0</text>
<text x="449.40" y="601.00" font-size="9" text-anchor="start" font-weight="normal" fill="#222" >10</text>
<text transform="translate(459.8,596.8) scale(0.5)" font-size="12.5" fill="#222">3</text>
<text x="408.9" y="618.7" font-size="12.2" text-anchor="middle" fill="#222" textLength="19.2" lengthAdjust="spacingAndGlyphs" style="stroke-width:0.45px">CD61</text>
</svg>
</body></html>
